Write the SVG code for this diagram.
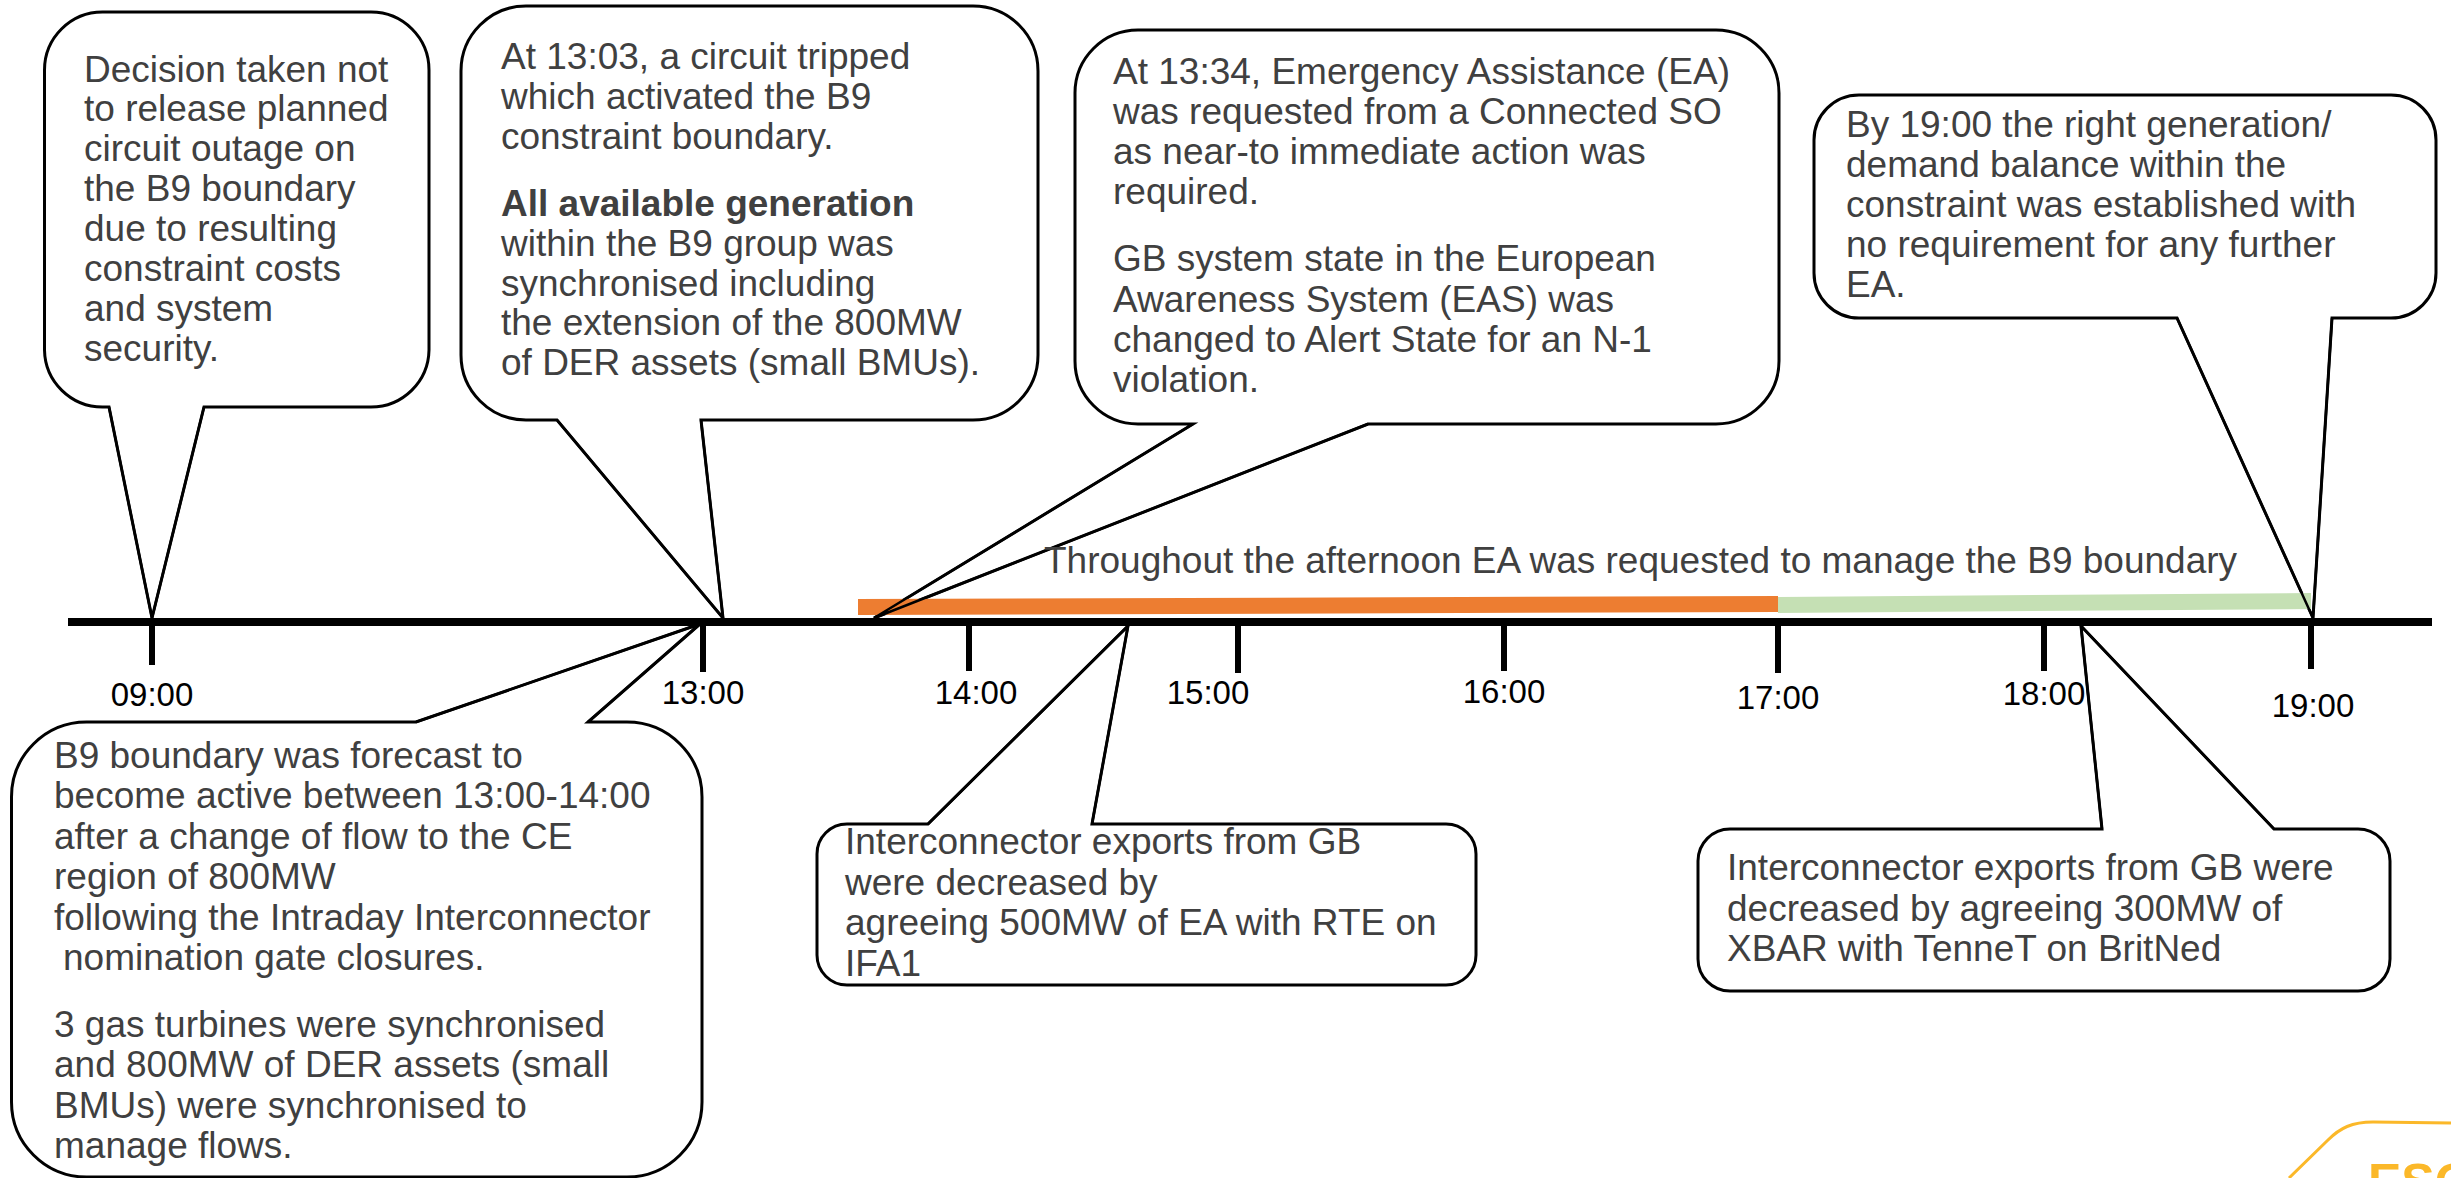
<svg xmlns="http://www.w3.org/2000/svg" width="2451" height="1178" viewBox="0 0 2451 1178">
<style>
.bub{fill:#ffffff;stroke:#000000;stroke-width:3;stroke-linejoin:miter}
.tail{fill:none;stroke:#000000;stroke-width:2.5}
.t{font-family:"Liberation Sans",Arial,sans-serif;font-size:37px;fill:#404040}
.b{font-weight:bold}
.tick{stroke:#000000;stroke-width:6}
.lbl{font-family:"Liberation Sans",Arial,sans-serif;font-size:33px;fill:#000000;text-anchor:middle}
</style>
<rect width="2451" height="1178" fill="#ffffff"/>

<g id="node-0900">
<path class="bub" d="M102.5,12 H371 A58,58 0 0 1 429,70 V350 A58,58 0 0 1 371,407 H204 L152,618 L109,407 H102.5 A58,58 0 0 1 44.5,350 V70 A58,58 0 0 1 102.5,12 Z"/>
<text class="t" x="84" y="82">Decision taken not</text>
<text class="t" x="84" y="121">to release planned</text>
<text class="t" x="84" y="161">circuit outage on</text>
<text class="t" x="84" y="201">the B9 boundary</text>
<text class="t" x="84" y="241">due to resulting</text>
<text class="t" x="84" y="281">constraint costs</text>
<text class="t" x="84" y="321">and system</text>
<text class="t" x="84" y="361">security.</text>
</g>

<g id="node-1303">
<path class="bub" d="M526,6 H973 A65,65 0 0 1 1038,71 V355 A65,65 0 0 1 973,420 H701 L723,618 L557,420 H526 A65,65 0 0 1 461,355 V71 A65,65 0 0 1 526,6 Z"/>
<text class="t" x="501" y="69">At 13:03, a circuit tripped</text>
<text class="t" x="501" y="109">which activated the B9</text>
<text class="t" x="501" y="149">constraint boundary.</text>
<text class="t b" x="501" y="216">All available generation</text>
<text class="t" x="501" y="256">within the B9 group was</text>
<text class="t" x="501" y="296">synchronised including</text>
<text class="t" x="501" y="335">the extension of the 800MW</text>
<text class="t" x="501" y="375">of DER assets (small BMUs).</text>
</g>

<g id="node-1334">
<path class="bub" d="M1138,30 H1716 A63,63 0 0 1 1779,93 V361 A63,63 0 0 1 1716,424 H1368 L874,618 L1193,424 H1138 A63,63 0 0 1 1075,361 V93 A63,63 0 0 1 1138,30 Z"/>
<text class="t" x="1113" y="84">At 13:34, Emergency Assistance (EA)</text>
<text class="t" x="1113" y="124">was requested from a Connected SO</text>
<text class="t" x="1113" y="164">as near-to immediate action was</text>
<text class="t" x="1113" y="204">required.</text>
<text class="t" x="1113" y="271">GB system state in the European</text>
<text class="t" x="1113" y="312">Awareness System (EAS) was</text>
<text class="t" x="1113" y="352">changed to Alert State for an N-1</text>
<text class="t" x="1113" y="392">violation.</text>
</g>

<g id="node-1900">
<path class="bub" d="M1859,95 H2391 A45,45 0 0 1 2436,140 V273 A45,45 0 0 1 2391,318 H2332 L2313,618 L2177,318 H1859 A45,45 0 0 1 1814,273 V140 A45,45 0 0 1 1859,95 Z"/>
<text class="t" x="1846" y="137">By 19:00 the right generation/</text>
<text class="t" x="1846" y="177">demand balance within the</text>
<text class="t" x="1846" y="217">constraint was established with</text>
<text class="t" x="1846" y="257">no requirement for any further</text>
<text class="t" x="1846" y="297">EA.</text>
</g>

<g id="node-forecast">
<path class="bub" d="M86.5,722 H416 L700,624 L588,722 H627 A75,75 0 0 1 702,797 V1102 A75,75 0 0 1 627,1177 H86.5 A75,75 0 0 1 11.5,1102 V797 A75,75 0 0 1 86.5,722 Z"/>
<text class="t" x="54" y="768">B9 boundary was forecast to</text>
<text class="t" x="54" y="808">become active between 13:00-14:00</text>
<text class="t" x="54" y="849">after a change of flow to the CE</text>
<text class="t" x="54" y="889">region of 800MW</text>
<text class="t" x="54" y="930">following the Intraday Interconnector</text>
<text class="t" x="63" y="970">nomination gate closures.</text>
<text class="t" x="54" y="1037">3 gas turbines were synchronised</text>
<text class="t" x="54" y="1077">and 800MW of DER assets (small</text>
<text class="t" x="54" y="1118">BMUs) were synchronised to</text>
<text class="t" x="54" y="1158">manage flows.</text>
</g>

<g id="node-ifa1">
<path class="bub" d="M847,824 H928 L1128,626 L1092,824 H1446 A30,30 0 0 1 1476,854 V955 A30,30 0 0 1 1446,985 H847 A30,30 0 0 1 817,955 V854 A30,30 0 0 1 847,824 Z"/>
<text class="t" x="845" y="854">Interconnector exports from GB</text>
<text class="t" x="845" y="895">were decreased by</text>
<text class="t" x="845" y="935">agreeing 500MW of EA with RTE on</text>
<text class="t" x="845" y="976">IFA1</text>
</g>

<g id="node-britned">
<path class="bub" d="M1730,829 H2102 L2081,626 L2274,829 H2358 A32,32 0 0 1 2390,861 V959 A32,32 0 0 1 2358,991 H1730 A32,32 0 0 1 1698,959 V861 A32,32 0 0 1 1730,829 Z"/>
<text class="t" x="1727" y="880">Interconnector exports from GB were</text>
<text class="t" x="1727" y="921">decreased by agreeing 300MW of</text>
<text class="t" x="1727" y="961">XBAR with TenneT on BritNed</text>
</g>

<g id="ea-bars">
<polygon points="858,599 1778,596 1778,612 858,615" fill="#ED7D31"/>
<polygon points="1778,597 2311,593 2311,609 1778,613" fill="#C5E0B4"/>
</g>

<g id="timeline">
<line x1="68" y1="622" x2="2432" y2="622" stroke="#000000" stroke-width="8"/>
<line class="tick" x1="152" y1="622" x2="152" y2="665"/>
<line class="tick" x1="703" y1="622" x2="703" y2="672"/>
<line class="tick" x1="969" y1="622" x2="969" y2="671"/>
<line class="tick" x1="1238" y1="622" x2="1238" y2="673"/>
<line class="tick" x1="1504" y1="622" x2="1504" y2="671"/>
<line class="tick" x1="1778" y1="622" x2="1778" y2="673"/>
<line class="tick" x1="2044" y1="622" x2="2044" y2="671"/>
<line class="tick" x1="2311" y1="622" x2="2311" y2="669"/>
<text class="lbl" x="152" y="706">09:00</text>
<text class="lbl" x="703" y="704">13:00</text>
<text class="lbl" x="976" y="704">14:00</text>
<text class="lbl" x="1208" y="704">15:00</text>
<text class="lbl" x="1504" y="703">16:00</text>
<text class="lbl" x="1778" y="709">17:00</text>
<text class="lbl" x="2044" y="705">18:00</text>
<text class="lbl" x="2313" y="717">19:00</text>
</g>

<g id="connectors">
<polyline class="tail" points="109,407 152,618 204,407"/>
<polyline class="tail" points="557,420 723,618 701,420"/>
<polyline class="tail" points="1193,424 874,618 1368,424"/>
<polyline class="tail" points="2177,318 2313,618 2332,318"/>
<polyline class="tail" points="416,722 700,624 588,722"/>
<polyline class="tail" points="928,824 1128,626 1092,824"/>
<polyline class="tail" points="2102,829 2081,626 2274,829"/>
</g>

<text class="t" x="1044" y="573">Throughout the afternoon EA was requested to manage the B9 boundary</text>

<g id="eso-logo">
<path d="M2289,1178 L2328,1140 C2340,1128 2352,1122 2373,1122 L2451,1123" fill="none" stroke="#FBB829" stroke-width="3"/>
<text x="2368" y="1199" font-family="'Liberation Sans',Arial,sans-serif" font-weight="bold" font-size="50" fill="#FBB829">ESO</text>
</g>
</svg>
